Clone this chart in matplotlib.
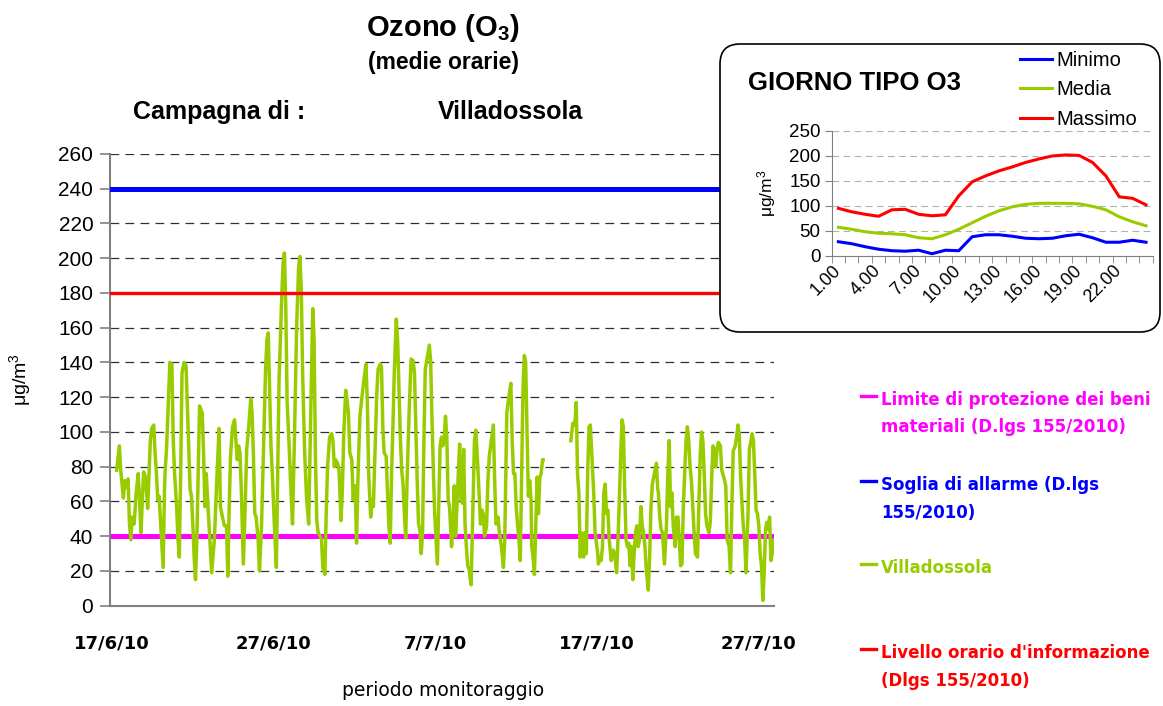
import numpy as np
import matplotlib

matplotlib.use("Agg")
import matplotlib.pyplot as plt  # noqa: E402
import matplotlib.dates as mdates  # noqa: E402
from matplotlib.patches import FancyBboxPatch  # noqa: E402
from matplotlib.lines import Line2D  # noqa: E402
from datetime import datetime  # noqa: E402

plt.rcParams["font.family"] = ["Liberation Sans", "DejaVu Sans"]
plt.rcParams["mathtext.default"] = "regular"

START = datetime(2010, 6, 17)

# ore dall'inizio campagna (17/6/10 00:00) e medie orarie O3 (ug/m3); None = dato mancante
hours = [
    7, 11, 13, 15, 17, 19, 21, 24, 26, 28, 30, 33, 36, 39, 41, 43, 45, 47, 50, 53,
    55, 57, 59, 62, 64, 66, 68, 70, 73, 76, 78, 79, 81, 86, 89, 91, 93, 96, 98, 100,
    102, 104, 107, 110, 113, 116, 118, 120, 122, 124, 126, 128, 130, 132, 134, 136, 138, 140, 142,
    148, 152, 156, 159, 161, 164, 167, 170, 172, 174, 176, 179, 182, 184, 186, 188, 190, 192, 195, 198,
    200, 203, 206, 208, 210, 212, 214, 217, 219, 222, 224, 226, 228, 230, 232, 234, 236, 238, 241, 244,
    246, 248, 250, 252, 254, 256, 258, 260, 263, 265, 268, 271, 274, 277, 279, 281, 283, 286, 289, 292,
    298, 300, 302, 304, 306, 309, 311, 313, 316, 318, 320, 323, 326, 328, 330, 332, 335, 337, 340, 342,
    344, 347, 349, 351, 353, 356, 358, 361, 363, 365, 368, 371, 374, 377, 379, 381, 384, 386, 388, 391,
    393, 395, 398, 400, 402, 404, 407, 409, 411, 413, 415, 417, 419, 422, 424, 426, 428, 430, 432, 434,
    436, 438, 441, 444,
    447, 449, 451, 453, 455, 457, 459, 461, 463, 465, 468, 471, 473, 475, 477, 479, 481, 483, 485, 487,
    489, 491, 493, 495, 497, 499, 501, 504, 506, 508, 510, 512, 514, 516, 518, 520, 522, 524, 526, 528,
    530, 533, 535, 538, 540, 542, 544, 547, 549, 551, 553, 556, 558, 560, 563, 566, 568, 570, 573, 575,
    578, 581, 583, 586, 589, 592,
    594, 596, 598, 600, 602, 604, 606, 608, 610, 612, 614, 616, 618, 620, 622, 623, 625, 627, 629, 631,
    633, 635, 637, 639, 640,
    660,
    681, 684, 687, 689, 691, 693, 695, 697, 700, 702, 704, 706, 708, 710, 712, 715, 717, 719, 721, 722,
    724, 726, 728, 730, 732, 734, 736, 738, 741,
    744, 746, 749, 751, 753, 755, 757, 759, 761, 763, 765, 767, 769, 771, 773, 775, 777, 779, 781, 783,
    785, 787, 789, 791, 793, 796, 798, 800, 802, 804, 806, 808, 810, 811, 813, 815, 817, 820, 823, 825,
    827, 829, 831, 833, 836, 838, 840, 842, 844, 846, 848, 850, 852, 854, 856, 858, 860, 862, 864, 866,
    869, 871, 873, 875,
    877, 879, 881, 883, 886, 888, 890, 892, 894, 896, 898, 900, 903, 905, 908, 911, 913, 916, 918, 920,
    922, 925, 927, 929, 931, 933, 935, 937, 939, 941, 944, 946, 948, 950, 952, 954, 956, 958, 960, 962,
    964, 966, 968, 970, 972, 974, 976, 978, 980, 982, 983,
]
o3 = [
    78, 92, 78, 70, 62, 72, 68, 73, 47, 38, 51, 47, 65, 76, 61, 42, 59, 77, 74, 56,
    76, 95, 102, 104, 88, 76, 61, 63, 42, 22, 67, 78, 90, 140, 139, 95, 76, 57, 38, 28,
    76, 134, 140, 138, 103, 67, 63, 47, 28, 15, 38, 76, 115, 113, 111, 88, 57, 76, 61,
    19, 38, 76, 102, 57, 51, 46, 46, 17, 57, 86, 103, 107, 95, 84, 92, 88, 67, 24, 61,
    90, 103, 119, 111, 86, 53, 51, 38, 20, 46, 76, 105, 136, 153, 157, 124, 92, 76, 47, 22,
    76, 130, 153, 178, 197, 203, 172, 117, 92, 72, 47, 99, 159, 195, 201, 182, 134, 88, 61, 47,
    171, 153, 86, 49, 42, 40, 38, 22, 18, 53, 80, 97, 99, 95, 80, 84, 82, 78, 49, 67,
    99, 124, 118, 111, 88, 84, 61, 69, 36, 72, 109, 120, 130, 139, 118, 76, 51, 61, 57, 95,
    122, 136, 139, 138, 103, 88, 86, 65, 46, 36, 76, 103, 134, 165, 153, 126, 97, 78, 70, 53,
    39, 72, 111, 142,
    141, 134, 103, 72, 47, 44, 30, 42, 95, 136, 143, 150, 141, 107, 78, 53, 38, 24, 57, 92,
    97, 92, 95, 109, 97, 61, 57, 34, 44, 69, 40, 57, 76, 93, 61, 59, 90, 47, 34, 23,
    21, 12, 44, 95, 101, 88, 72, 47, 55, 53, 40, 46, 72, 86, 95, 104, 72, 47, 51, 42,
    34, 22, 38, 111, 120, 128,
    95, 76, 76, 57, 46, 38, 26, 76, 124, 144, 140, 103, 63, 72, 61, 34, 28, 18, 46, 74,
    53, 74, 76, 84, 84,
    None,
    95, 105, 104, 117, 76, 65, 28, 42, 28, 42, 30, 76, 103, 104, 88, 65, 42, 36, 30, 24,
    28, 26, 34, 65, 70, 53, 55, 38, 26,
    32, 30, 19, 38, 61, 86, 107, 103, 67, 38, 34, 36, 23, 34, 15, 30, 42, 46, 34, 38,
    57, 46, 42, 34, 21, 9, 28, 57, 70, 74, 78, 82, 67, 65, 51, 44, 42, 24, 47, 76,
    95, 57, 65, 46, 34, 51, 51, 38, 23, 24, 57, 76, 95, 103, 95, 80, 72, 57, 42, 30,
    28, 57, 86, 100,
    95, 76, 53, 46, 42, 48, 72, 92, 90, 80, 90, 94, 92, 78, 74, 69, 38, 34, 19, 57,
    89, 92, 97, 104, 99, 74, 59, 46, 38, 19, 53, 90, 94, 99, 95, 76, 55, 53, 46, 30,
    23, 3, 19, 44, 48, 44, 51, 26, 30, 38, 34,
]
assert len(hours) == len(o3)

tick_labels = ["17/6/10", "27/6/10", "7/7/10", "17/7/10", "27/7/10"]

limite_beni = 40       # D.lgs 155/2010
soglia_allarme = 240   # D.lgs 155/2010
livello_info = 180     # D.lgs 155/2010

# giorno tipo
ore = list(range(1, 25))
ore_labels = ["1.00", "4.00", "7.00", "10.00", "13.00", "16.00", "19.00", "22.00"]
minimo = [28, 24, 18, 13, 10, 9, 11, 4, 11, 10, 38, 42, 42, 39, 35, 34, 35, 40, 43, 36, 27, 27, 31, 27]
media = [57, 53, 48, 45, 44, 42, 36, 34, 42, 53, 66, 79, 90, 98, 103, 105, 105, 105, 104, 99, 92, 78, 68, 60]
massimo = [95, 88, 83, 79, 92, 93, 83, 80, 82, 120, 148, 160, 170, 178, 187, 194, 200, 202, 201, 187, 160, 118, 115, 102]

GREEN = "#99CC00"
BLUE = "#0000FF"
RED = "#FF0000"
MAGENTA = "#FF00FF"
GREY = "#808080"

W, H = 1163, 706
fig = plt.figure(figsize=(W / 100, H / 100), dpi=100)


def fx(px):
    return px / W


def fy(py):
    return 1 - py / H


# ---- grafico principale
ax = fig.add_axes([fx(110), fy(605.7), fx(664), 451.7 / H])
t0 = mdates.date2num(START)
x = t0 + np.array(hours, dtype=float) / 24.0
y = np.array([np.nan if v is None else v for v in o3], dtype=float)

ax.axhline(limite_beni, color=MAGENTA, lw=3.6, zorder=2)
ax.axhline(soglia_allarme, color=BLUE, lw=3.6, zorder=3)
ax.plot(x, y, color=GREEN, lw=2.5, zorder=4)
ax.axhline(livello_info, color=RED, lw=2.4, zorder=5)

ax.set_xlim(t0 - 0.12, t0 + 40.94)
ax.set_ylim(0, 260)
ax.set_yticks(range(0, 261, 20))
ax.yaxis.grid(True, linestyle=(0, (7, 5)), color="#303030", lw=0.9)
ax.set_axisbelow(True)
ax.tick_params(axis="y", length=7, width=1.2, color=GREY, labelsize=15, pad=5)

tick_pos = [mdates.date2num(datetime.strptime(s, "%d/%m/%y")) for s in tick_labels]
ax.set_xticks(tick_pos)
ax.set_xticklabels(tick_labels, fontfamily="DejaVu Sans", fontweight="bold", fontsize=13)
ax.tick_params(axis="x", length=0, pad=21)

for s in ["top", "right"]:
    ax.spines[s].set_visible(False)
for s in ["left", "bottom"]:
    ax.spines[s].set_color(GREY)
    ax.spines[s].set_linewidth(1.5)

fig.text(fx(20), fy(380), "μg/m$^3$", rotation=90, ha="center", va="center", fontsize=14)
fig.text(fx(443), fy(690), "periodo monitoraggio", ha="center", va="center",
         fontsize=13.5, fontfamily="DejaVu Sans")

fig.text(fx(443), fy(28), "Ozono (O$_3$)", ha="center", va="center", fontsize=21, fontweight="bold")
fig.text(fx(443), fy(63), "(medie orarie)", ha="center", va="center", fontsize=16.5, fontweight="bold")
fig.text(fx(133), fy(112), "Campagna di :", ha="left", va="center", fontsize=18, fontweight="bold")
fig.text(fx(438), fy(112), "Villadossola", ha="left", va="center", fontsize=18, fontweight="bold")

# ---- legenda a destra
legend_items = [
    (["Limite di protezione dei beni", "materiali (D.lgs 155/2010)"], MAGENTA, 400),
    (["Soglia di allarme (D.lgs", "155/2010)"], BLUE, 485),
    (["Villadossola"], GREEN, 568),
    (["Livello orario d'informazione", "(Dlgs 155/2010)"], RED, 653),
]
for lines, col, ytop in legend_items:
    fig.add_artist(Line2D([fx(861), fx(876)], [fy(ytop - 4)] * 2, color=col, lw=2.4))
    for i, txt in enumerate(lines):
        fig.text(fx(881), fy(ytop + 27.5 * i), txt, ha="left", va="center", color=col,
                 fontsize=12, fontweight="bold", fontfamily="DejaVu Sans")

# ---- riquadro giorno tipo
box = FancyBboxPatch((7.20, 7.06 - 3.32), 4.40, 2.88,
                     boxstyle="round,pad=0,rounding_size=0.2",
                     transform=fig.dpi_scale_trans, facecolor="white",
                     edgecolor="black", lw=1.2, zorder=1)
fig.add_artist(box)

ai = fig.add_axes([fx(831.7), fy(255.7), fx(321), 124.7 / H], zorder=2)
ai.set_facecolor("none")
l_min, = ai.plot(ore, minimo, color=BLUE, lw=2.2, label="Minimo")
l_med, = ai.plot(ore, media, color=GREEN, lw=2.2, label="Media")
l_max, = ai.plot(ore, massimo, color=RED, lw=2.2, label="Massimo")
ai.set_xlim(0.5, 24.5)
ai.set_ylim(0, 250)
ai.set_yticks(range(0, 251, 50))
ai.yaxis.grid(True, linestyle=(0, (6, 4)), color="#B0B0B0", lw=0.8)
ai.set_axisbelow(True)
ai.set_xticks(ore[::3])
ai.set_xticklabels(ore_labels, rotation=45, ha="right", va="center", rotation_mode="anchor", fontsize=13)
ai.set_xticks(np.arange(0.5, 25, 1), minor=True)
ai.tick_params(axis="x", which="major", length=0, pad=9)
ai.tick_params(axis="x", which="minor", length=5, color=GREY)
ai.tick_params(axis="y", length=5, color=GREY, labelsize=13.5, pad=3)
for s in ["top", "right"]:
    ai.spines[s].set_visible(False)
for s in ["left", "bottom"]:
    ai.spines[s].set_color(GREY)
ai.set_ylabel("μg/m$^3$", fontsize=12.5, labelpad=8)

fig.text(fx(748), fy(83), "GIORNO TIPO O3", ha="left", va="center", fontsize=18.5, fontweight="bold")
ai.legend(handles=[l_min, l_med, l_max], loc="upper left",
          bbox_to_anchor=(fx(1020), fy(51)), bbox_transform=fig.transFigure,
          frameon=False, fontsize=14.5, handlelength=1.6, handletextpad=0.2,
          labelspacing=0.52, borderpad=0, borderaxespad=0)

fig.savefig("out.png", dpi=100)
